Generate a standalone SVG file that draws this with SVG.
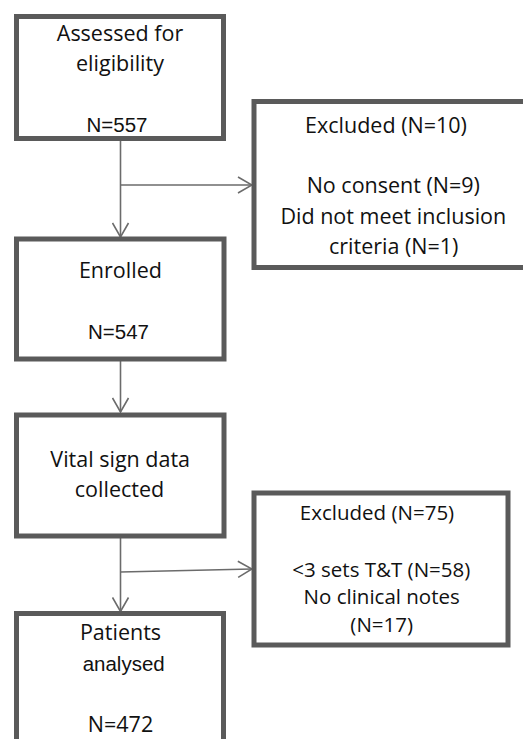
<svg xmlns="http://www.w3.org/2000/svg" width="523" height="739" viewBox="0 0 523 739">
<style>
.box{fill:#fff;stroke:#5a5a5a;stroke-width:5}
.con{fill:none;stroke:#6b6b6b;stroke-width:1.6}
.c{font-family:"Open Sans","Noto Sans",sans-serif;font-size:21.5px;fill:#111;text-anchor:middle}
.a{font-family:"Liberation Sans",Arial,sans-serif;font-size:20.5px;fill:#111;text-anchor:middle}
.s{font-size:20.5px}
</style>
<defs>
<marker id="arr" markerUnits="userSpaceOnUse" viewBox="0 0 16 18" refX="15" refY="9" markerWidth="16" markerHeight="18" orient="auto">
<path d="M1,1 L15,9 L1,17" fill="none" stroke="#6b6b6b" stroke-width="1.6"/>
</marker>
</defs>
<rect width="523" height="739" fill="#fff"/>
<g id="connectors">
<path class="con" d="M120.5,141 V237" marker-end="url(#arr)"/>
<path class="con" d="M120.5,185 H252" marker-end="url(#arr)"/>
<path class="con" d="M120.5,361 V412" marker-end="url(#arr)"/>
<path class="con" d="M120.5,538 V611.5" marker-end="url(#arr)"/>
<path class="con" d="M120.5,572 L252,569" marker-end="url(#arr)"/>
</g>
<g id="assessed">
<rect class="box" x="16.5" y="16.5" width="207" height="122"/>
<text class="c" x="120" y="40.7">Assessed for</text>
<text class="c" x="120" y="71">eligibility</text>
<text class="a" x="117" y="132.3">N=557</text>
</g>
<g id="excluded1">
<rect class="box" x="254" y="101.5" width="300" height="166"/>
<text class="c" x="386" y="132.7">Excluded (N=10)</text>
<text class="c" x="393.3" y="193.3">No consent (N=9)</text>
<text class="c" x="393.3" y="224">Did not meet inclusion</text>
<text class="c" x="393.7" y="254">criteria (N=1)</text>
</g>
<g id="enrolled">
<rect class="box" x="16.5" y="239" width="207.5" height="120"/>
<text class="c" x="120.4" y="277.7">Enrolled</text>
<text class="a" x="118.5" y="339">N=547</text>
</g>
<g id="vital">
<rect class="box" x="16.5" y="415" width="207.5" height="121"/>
<text class="c" x="120.2" y="467.3">Vital sign data</text>
<text class="c" x="119.5" y="497.3">collected</text>
</g>
<g id="excluded2">
<rect class="box" x="254" y="493" width="254" height="152"/>
<text class="c s" x="377" y="520">Excluded (N=75)</text>
<text class="c s" x="381.3" y="576.7">&lt;3 sets T&amp;T (N=58)</text>
<text class="c s" x="381.7" y="604">No clinical notes</text>
<text class="c s" x="381.7" y="631.7">(N=17)</text>
</g>
<g id="analysed">
<rect class="box" x="16.5" y="613.5" width="207" height="200"/>
<text class="c" x="120.5" y="640">Patients</text>
<text class="a" x="123.7" y="670.7">analysed</text>
<text class="c" x="120.5" y="731.7">N=472</text>
</g>
</svg>
